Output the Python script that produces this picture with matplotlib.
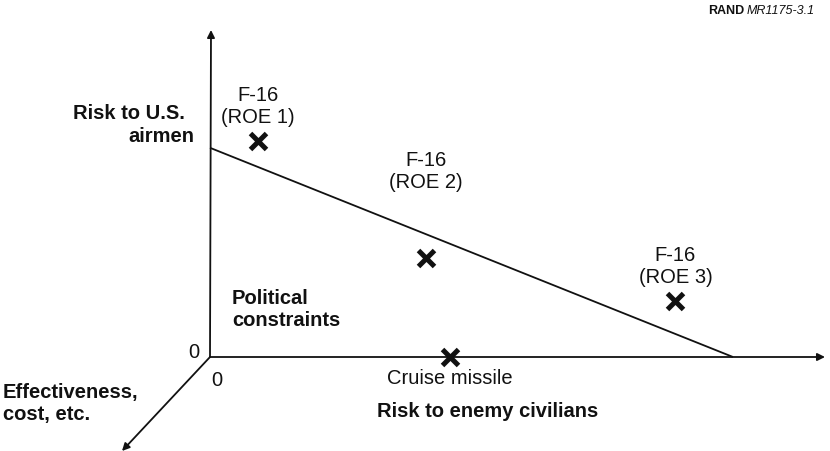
import matplotlib
matplotlib.use("Agg")
import matplotlib.pyplot as plt

# ---- data (chart units: x = risk to enemy civilians, y = risk to U.S. airmen)
point_names = ["F-16\n(ROE 1)", "F-16\n(ROE 2)", "F-16\n(ROE 3)", "Cruise missile"]
point_x = [0.92, 4.13, 8.9, 4.59]
point_y = [4.13, 1.89, 1.07, 0.0]
constraint_x = [0.0, 10.0]
constraint_y = [4.0, 0.0]

W, H = 830, 452
S = 52.3          # pixels per unit
OX, OY = 210, 358  # pixel of origin

def P(px, py):
    return ((px - OX) / S, (OY - py) / S)

plt.rcParams['font.family'] = ['Liberation Sans', 'DejaVu Sans']
fig = plt.figure(figsize=(W / 100, H / 100), dpi=100)
ax = fig.add_axes([0, 0, 1, 1])
ax.set_xlim(-OX / S, (W - OX) / S)
ax.set_ylim((OY - H) / S, OY / S)
ax.axis('off')

k = '#111111'
arw = dict(arrowstyle='-|>', color=k, lw=1.3, mutation_scale=11, shrinkA=0, shrinkB=0)
ax.annotate('', xy=P(211, 31), xytext=(0, 0), arrowprops=arw)
ax.annotate('', xy=P(825, 358), xytext=(0, 0), arrowprops=arw)
ax.annotate('', xy=P(122, 452), xytext=(0, 0), arrowprops=arw)

# constraint line
ax.plot(constraint_x, constraint_y, color=k, lw=1.3, solid_capstyle='butt')

# markers
ax.plot(point_x, point_y, linestyle='none', marker='x', ms=11, mew=3.6, color=k, zorder=5)

# point labels
FS = 14.5
for name, x, y in zip(point_names, point_x, point_y):
    if name.startswith("Cruise"):
        ax.annotate(name, (x, y), xytext=(0, -21), textcoords='offset pixels',
                    ha='center', va='center', fontsize=FS, color=k)
    else:
        off = 88 if name.endswith("2)") else 36
        ax.annotate(name, (x, y), xytext=(0, off), textcoords='offset pixels',
                    ha='center', va='center', fontsize=FS, color=k, linespacing=1.2)

bold = dict(fontsize=14.5, fontweight='bold', color=k)
ax.text(*P(129, 113), "Risk to U.S.", ha='center', va='center', **bold)
ax.text(*P(161, 136), "airmen", ha='center', va='center', **bold)
ax.text(*P(232, 298), "Political", ha='left', va='center', **bold)
ax.text(*P(232, 320), "constraints", ha='left', va='center', **bold)
ax.text(*P(488, 412), "Risk to enemy civilians", ha='center', va='center', **bold)
ax.text(*P(3, 393), "Effectiveness,", ha='left', va='center', **bold)
ax.text(*P(3, 415), "cost, etc.", ha='left', va='center', **bold)

ax.text(*P(194, 353), "0", ha='center', va='center', fontsize=FS, color=k)
ax.text(*P(217, 380), "0", ha='center', va='center', fontsize=FS, color=k)

ax.text(*P(744, 11), "RAND", ha='right', va='center', fontsize=9, fontweight='bold', color=k)
ax.text(*P(747, 11), "MR1175-3.1", ha='left', va='center', fontsize=9, fontstyle='italic', color=k)

fig.savefig("out.png", dpi=100, facecolor='white')
